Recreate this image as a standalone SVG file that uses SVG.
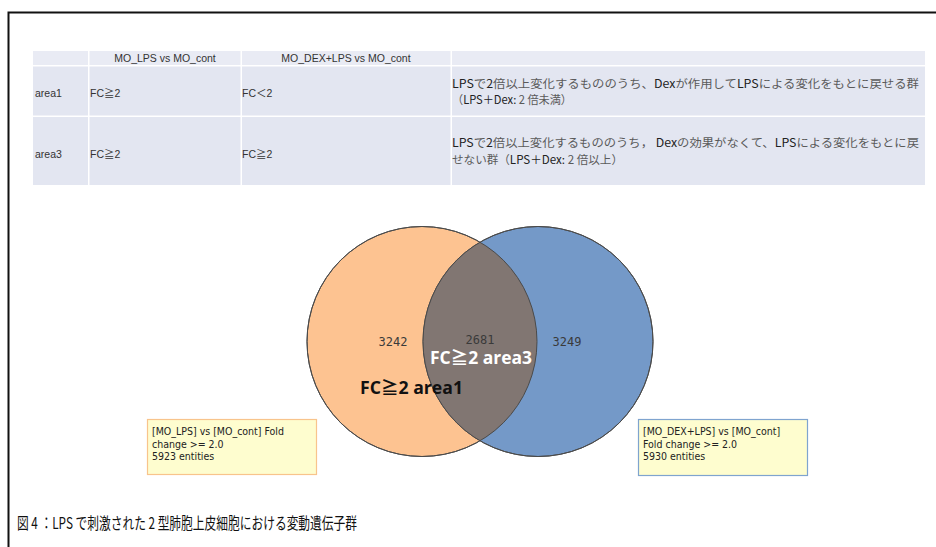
<svg xmlns="http://www.w3.org/2000/svg" width="936" height="547" viewBox="0 0 936 547">
<defs>
<style>
.cell{fill:#e3e6f1;}
.hdr{fill:#e9ebf4;}
.tt{font-family:"Liberation Sans","Noto Sans CJK JP",sans-serif;font-size:10.5px;fill:#333;}
.jp{font-family:"Noto Sans CJK JP","Liberation Sans",sans-serif;font-size:11.5px;fill:#5a5a5a;}
.lat{fill:#222;}
.num{font-family:"DejaVu Sans Mono","Liberation Mono",monospace;font-size:12px;fill:#3a3a3a;}
.big{font-family:"Open Sans","Noto Sans CJK JP",sans-serif;font-size:17px;font-weight:bold;}
.box{font-family:"DejaVu Sans Condensed","Liberation Sans Narrow","Liberation Sans",sans-serif;font-size:10.5px;fill:#222;}
.circ{stroke:#4a4a4a;stroke-width:1;}
</style>
</defs>
<rect width="936" height="547" fill="#ffffff"/>
<path d="M8.5,547 V12.5 H936" fill="none" stroke="#111" stroke-width="2"/>

<g id="table">
<rect class="hdr" x="33" y="51" width="55" height="14"/>
<rect class="hdr" x="89.5" y="51" width="151" height="14"/>
<rect class="hdr" x="242" y="51" width="208.5" height="14"/>
<rect class="hdr" x="452" y="51" width="473" height="14"/>
<rect class="cell" x="33" y="66.5" width="55" height="49"/>
<rect class="cell" x="89.5" y="66.5" width="151" height="49"/>
<rect class="cell" x="242" y="66.5" width="208.5" height="49"/>
<rect class="cell" x="452" y="66.5" width="473" height="49"/>
<rect class="cell" x="33" y="117" width="55" height="68"/>
<rect class="cell" x="89.5" y="117" width="151" height="68"/>
<rect class="cell" x="242" y="117" width="208.5" height="68"/>
<rect class="cell" x="452" y="117" width="473" height="68"/>
<text class="tt" x="165" y="62" text-anchor="middle">MO_LPS vs MO_cont</text>
<text class="tt" x="346" y="62" text-anchor="middle">MO_DEX+LPS vs MO_cont</text>
<text class="tt" x="35" y="97">area1</text>
<text class="tt" x="90" y="97">FC≧2</text>
<text class="tt" x="242" y="97">FC＜2</text>
<text class="tt" x="35" y="158">area3</text>
<text class="tt" x="90" y="158">FC≧2</text>
<text class="tt" x="242" y="158">FC≧2</text>
<text class="jp" x="452" y="88" textLength="467" lengthAdjust="spacingAndGlyphs"><tspan class="lat">LPS</tspan>で<tspan class="lat">2</tspan>倍以上変化するもののうち、<tspan class="lat">Dex</tspan>が作用して<tspan class="lat">LPS</tspan>による変化をもとに戻せる群</text>
<text class="jp" x="452" y="104" textLength="120" lengthAdjust="spacingAndGlyphs">（<tspan class="lat">LPS＋Dex:</tspan> 2 倍未満）</text>
<text class="jp" x="452" y="147" textLength="467" lengthAdjust="spacingAndGlyphs"><tspan class="lat">LPS</tspan>で<tspan class="lat">2</tspan>倍以上変化するもののうち， <tspan class="lat">Dex</tspan>の効果がなくて、<tspan class="lat">LPS</tspan>による変化をもとに戻</text>
<text class="jp" x="452" y="164" textLength="171" lengthAdjust="spacingAndGlyphs">せない群（<tspan class="lat">LPS＋Dex:</tspan> 2 倍以上）</text>
</g>

<g id="venn">
<circle class="circ" cx="422" cy="341.5" r="115" fill="#fdc391"/>
<circle class="circ" cx="538" cy="341.5" r="115" fill="#7499c8"/>
<path d="M480,242.2 A115,115 0 0 1 480,440.8 A115,115 0 0 1 480,242.2 Z" fill="#817672"/>
<circle class="circ" cx="422" cy="341.5" r="115" fill="none"/>
<circle class="circ" cx="538" cy="341.5" r="115" fill="none"/>
<text class="num" x="393" y="346" text-anchor="middle">3242</text>
<text class="num" x="480" y="344" text-anchor="middle">2681</text>
<text class="num" x="567" y="346" text-anchor="middle">3249</text>
<text class="big" x="430" y="364" fill="#ffffff" textLength="102" lengthAdjust="spacingAndGlyphs">FC≧2 area3</text>
<text class="big" x="360" y="394" fill="#111111" textLength="103" lengthAdjust="spacingAndGlyphs">FC≧2 area1</text>
</g>

<g id="box-left">
<rect x="147.5" y="419.5" width="169" height="55" fill="#fefdcf" stroke="#f8c48c" stroke-width="1.2"/>
<text class="box" x="152" y="435">[MO_LPS] vs [MO_cont] Fold</text>
<text class="box" x="152" y="447.5">change &gt;= 2.0</text>
<text class="box" x="152" y="460">5923 entities</text>
</g>

<g id="box-right">
<rect x="638.5" y="419.5" width="169" height="56" fill="#fefdcf" stroke="#7fa4cf" stroke-width="1.2"/>
<text class="box" x="643" y="435">[MO_DEX+LPS] vs [MO_cont]</text>
<text class="box" x="643" y="447.5">Fold change &gt;= 2.0</text>
<text class="box" x="643" y="460">5930 entities</text>
</g>

<g id="caption">
<text x="17" y="529" font-family="Noto Sans CJK JP, sans-serif" font-size="16" fill="#111" textLength="340" lengthAdjust="spacingAndGlyphs">図 4 ：LPS で刺激された 2 型肺胞上皮細胞における変動遺伝子群</text>
</g>
</svg>
